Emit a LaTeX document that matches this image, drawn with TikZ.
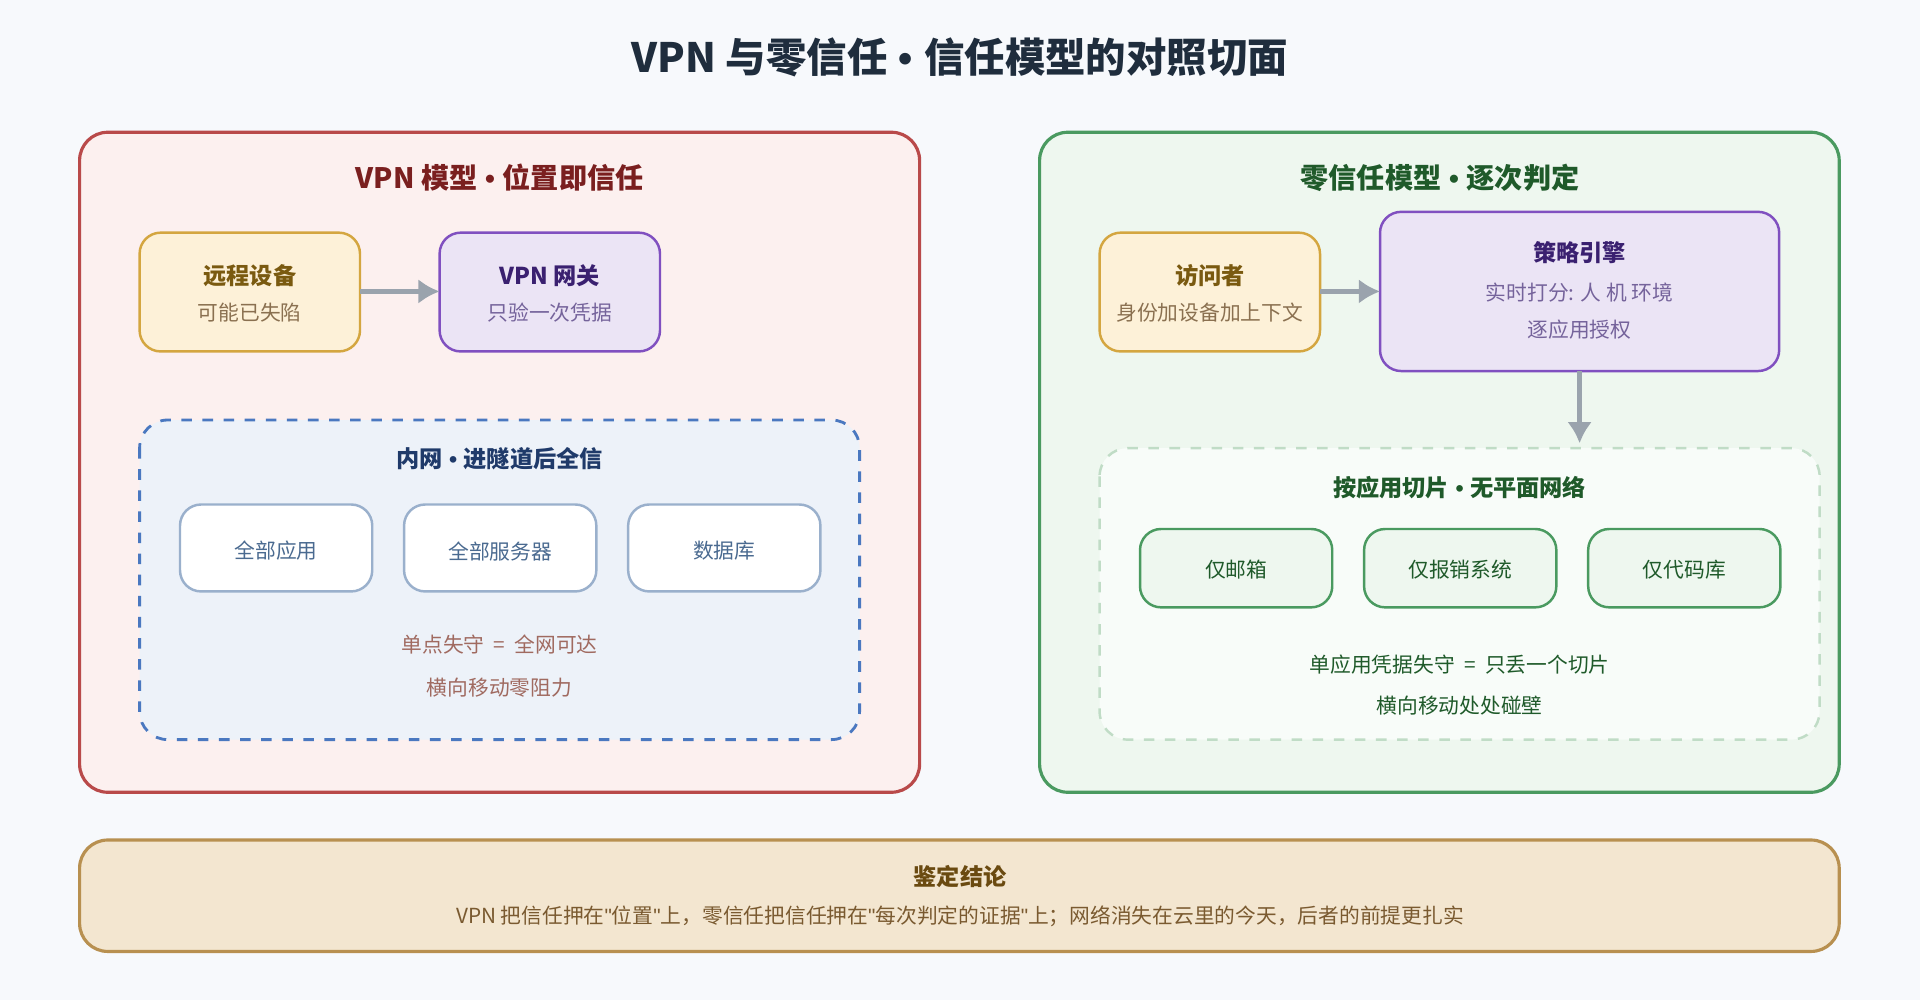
\documentclass[tikz,border=0pt]{standalone}
\usepackage{fontspec}
\setmainfont{Noto Sans CJK SC}
\newfontfamily\latinfont{Liberation Sans}
\usepackage{tikz}
\usetikzlibrary{positioning, arrows.meta}

\definecolor{pageBg}{HTML}{F7F9FC}
\definecolor{titleInk}{HTML}{1F2D3D}
\definecolor{vpnFill}{HTML}{FCF0EF}
\definecolor{vpnLine}{HTML}{B94A4A}
\definecolor{vpnInk}{HTML}{7A1F1F}
\definecolor{ztFill}{HTML}{EEF7EF}
\definecolor{ztLine}{HTML}{4A9A60}
\definecolor{ztInk}{HTML}{1F5A2A}
\definecolor{yelFill}{HTML}{FDF1D8}
\definecolor{yelLine}{HTML}{D4A640}
\definecolor{yelInk}{HTML}{7A5A10}
\definecolor{yelSub}{HTML}{8A7050}
\definecolor{purFill}{HTML}{EBE4F5}
\definecolor{purLine}{HTML}{8050C0}
\definecolor{purInk}{HTML}{3A2070}
\definecolor{netFill}{HTML}{EDF2F9}
\definecolor{netLine}{HTML}{4A78C0}
\definecolor{netInk}{HTML}{1F3A6A}
\definecolor{appLine}{HTML}{9AB0CC}
\definecolor{appInk}{HTML}{4A6A90}
\definecolor{riskInk}{HTML}{A06A60}
\definecolor{sliceLine}{HTML}{C0DCC6}
\definecolor{arrowGray}{HTML}{9AA3AD}
\definecolor{endFill}{HTML}{F3E6D0}
\definecolor{endLine}{HTML}{B89050}
\definecolor{endInk}{HTML}{6A4A10}
\definecolor{endSub}{HTML}{7A5A30}

\newcommand{\dotsep}{{\latinfont\ \textbullet\ }}
\newcommand{\qt}{{\latinfont"}}

\tikzset{
  panel/.style={rounded corners=8pt, line width=0.9pt},
  card/.style={rounded corners=6pt, line width=0.7pt},
  flow/.style={-{Latex[length=6pt,width=7pt]}, line width=1.4pt, arrowGray},
  head/.style={font=\bfseries\fontsize{8}{10}\selectfont},
  cardhead/.style={font=\bfseries\fontsize{6.6}{8}\selectfont},
  small/.style={font=\fontsize{5.9}{7}\selectfont},
}

\begin{document}
\begin{tikzpicture}[x=0.012245cm, y=-0.012245cm]
    % Background
    \fill[pageBg] (0,0) rectangle (1568,817);
    \useasboundingbox (0,0) rectangle (1568,817);
    \node[font=\bfseries\fontsize{11.5}{14}\selectfont, titleInk] (title) at (784,47) {VPN 与零信任\dotsep 信任模型的对照切面};

    % VPN side
    \draw[panel, fill=vpnFill, draw=vpnLine] (65,108) rectangle (751,647);
    \node[head, vpnInk] (vpnHead) at (408,145) {VPN 模型\dotsep 位置即信任};
    \draw[card, fill=yelFill, draw=yelLine] (114,190) rectangle (294,287);
    \coordinate (remoteE) at (294,238);
    \node[cardhead, yelInk] (remote) at (204,225) {远程设备};
    \node[small, yelSub] (remoteSub) at (204,255) {可能已失陷};
    \draw[card, fill=purFill, draw=purLine] (359,190) rectangle (539,287);
    \coordinate (gateW) at (359,238);
    \node[cardhead, purInk] (gate) at (449,225) {VPN 网关};
    \node[small, purInk!70] (gateSub) at (449,255) {只验一次凭据};
    \draw[flow] (remoteE) -- (gateW);

    \draw[rounded corners=8pt, line width=0.8pt, dashed, fill=netFill, draw=netLine] (114,343) rectangle (702,604);
    \node[cardhead, netInk] (netHead) at (408,375) {内网\dotsep 进隧道后全信};
    \foreach \x/\name/\txt in {147/allApp/全部应用, 330/allSrv/全部服务器, 513/db/数据库} {
      \draw[card, fill=white, draw=appLine] (\x,412) rectangle (\x+157,483);
      \node[small, appInk] (\name) at (\x+78.5,450) {\txt};
    }
    \node[small, riskInk] (risk1) at (408,526) {单点失守 \ = \ 全网可达};
    \node[small, riskInk] (risk2) at (408,562) {横向移动零阻力};

    % Zero trust side
    \draw[panel, fill=ztFill, draw=ztLine] (849,108) rectangle (1502,647);
    \node[head, ztInk] (ztHead) at (1176,145) {零信任模型\dotsep 逐次判定};
    \draw[card, fill=yelFill, draw=yelLine] (898,190) rectangle (1078,287);
    \coordinate (visitE) at (1078,238);
    \node[cardhead, yelInk] (visitor) at (988,225) {访问者};
    \node[small, yelSub] (visitorSub) at (988,255) {身份加设备加上下文};
    \draw[card, fill=purFill, draw=purLine] (1127,173) rectangle (1453,303);
    \coordinate (engW) at (1127,238);
    \coordinate (engS) at (1290,303);
    \node[cardhead, purInk] (engine) at (1290,206) {策略引擎};
    \node[small, purInk!70] (engine1) at (1290,239) {实时打分: 人 机 环境};
    \node[small, purInk!70] (engine2) at (1290,269) {逐应用授权};
    \draw[flow] (visitE) -- (engW);
    \coordinate (sliceN) at (1290,362);
    \draw[flow] (engS) -- (sliceN);

    \draw[rounded corners=8pt, line width=0.7pt, dashed, fill=white!60!ztFill, draw=sliceLine] (898,366) rectangle (1486,604);
    \node[cardhead, ztInk] (sliceHead) at (1192,398) {按应用切片\dotsep 无平面网络};
    \foreach \x/\name/\txt in {931/mail/仅邮箱, 1114/expense/仅报销系统, 1297/repo/仅代码库} {
      \draw[card, fill=ztFill, draw=ztLine] (\x,432) rectangle (\x+157,496);
      \node[small, ztInk] (\name) at (\x+78.5,465) {\txt};
    }
    \node[small, ztInk] (gain1) at (1192,543) {单应用凭据失守 \ = \ 只丢一个切片};
    \node[small, ztInk] (gain2) at (1192,576) {横向移动处处碰壁};

    % Verdict
    \draw[panel, fill=endFill, draw=endLine] (65,686) rectangle (1502,777);
    \node[cardhead, endInk] (verdict) at (784,716) {鉴定结论};
    \node[small, endSub] (verdictSub) at (784,748) {VPN 把信任押在\qt 位置\qt 上，零信任把信任押在\qt 每次判定的证据\qt 上；网络消失在云里的今天，后者的前提更扎实};
\end{tikzpicture}
\end{document}
